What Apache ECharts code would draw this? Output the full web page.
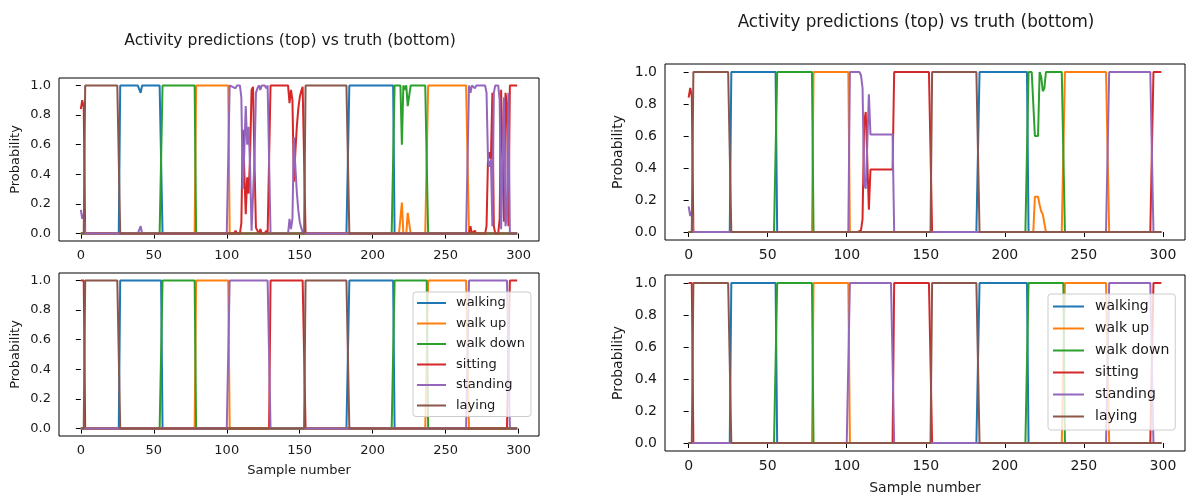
<!DOCTYPE html>
<html>
<head>
<meta charset="utf-8">
<title>Activity predictions vs truth</title>
<script src="https://cdn.jsdelivr.net/npm/echarts@6/dist/echarts.min.js"></script>
<style>
  html, body { margin: 0; padding: 0; background: #fff; }
  #chart { width: 1187px; height: 496px; }
</style>
</head>
<body>
<div id="chart"></div>
<script>
// activity classes, legend order
var activities = ['walking', 'walk up', 'walk down', 'sitting', 'standing', 'laying'];
var colors = ['#1f77b4', '#ff7f0e', '#2ca02c', '#d62728', '#9467bd', '#8c564b'];

var sampleCount = 300;
var xTicks = [0, 50, 100, 150, 200, 250, 300];
var yTicks = [0, 0.2, 0.4, 0.6, 0.8, 1.0];

// true activity: [activity index, first sample, last sample]
var truthSegments = [
  [3, 0, 2], [5, 3, 26], [0, 27, 55], [2, 56, 78], [1, 79, 101], [4, 102, 129],
  [3, 130, 153], [5, 154, 183], [0, 184, 214], [2, 215, 237], [1, 238, 265],
  [4, 266, 293], [3, 294, 299]
];

// predicted probabilities where they differ from the truth
// [sample, value] or [first sample, last sample, value]
var predLeft = {
  'walking': [[41, 0.95]],
  'walk up': [[220, 0.21], [224, 0.14], [225, 0.07]],
  'walk down': [[220, 0.6], [222, 0.97], [224, 0.86], [225, 0.93]],
  'sitting': [
    [0, 0.84], [1, 0.9], [2, 0.85],
    [104, 0.01], [106, 0.02], [108, 0.01], [110, 0.07], [111, 0.7], [112, 0.43],
    [113, 0.13], [114, 0.38], [115, 0.27], [116, 0.53], [117, 0.97], [118, 0.99],
    [119, 0.48], [120, 0.04], [121, 0.02], [123, 0.03], [125, 0.01], [127, 0.02],
    [143, 0.88], [144, 0.97], [145, 0.9], [146, 0.35], [147, 0.55], [148, 0.72],
    [149, 0.84], [150, 0.92], [151, 0.96], [152, 0.99],
    [267, 0.05], [270, 0.02], [278, 0.05], [279, 0.5], [280, 0.55], [281, 0.5],
    [282, 0.95], [283, 0.05], [287, 0.1], [288, 0.97], [289, 0.98], [290, 0.08],
    [291, 0.95], [292, 0.88], [293, 0.05]
  ],
  'standing': [
    [0, 0.16], [1, 0.1], [2, 0.13], [41, 0.05],
    [104, 0.99], [106, 0.98], [108, 0.99], [110, 0.92], [111, 0.3], [112, 0.55],
    [113, 0.86], [114, 0.6], [115, 0.72], [116, 0.45], [117, 0.02], [118, 0.01],
    [119, 0.5], [120, 0.95], [121, 0.98], [123, 0.97], [125, 0.99], [127, 0.98],
    [143, 0.1], [144, 0.03], [145, 0.1], [146, 0.65], [147, 0.45], [148, 0.28],
    [149, 0.16], [150, 0.08], [151, 0.04], [152, 0.01],
    [267, 0.95], [270, 0.98], [278, 0.95], [279, 0.5], [280, 0.45], [281, 0.5],
    [282, 0.05], [283, 0.95], [287, 0.9], [288, 0.03], [289, 0.02], [290, 0.92],
    [291, 0.05], [292, 0.12], [293, 0.95]
  ]
};

var predRight = {
  'walk up': [[219, 221, 0.22], [222, 0.17], [223, 0.13], [224, 225, 0.11]],
  'walk down': [[219, 221, 0.6], [222, 1], [223, 0.97], [224, 0.88], [225, 0.9]],
  'sitting': [
    [0, 0.84], [1, 0.9], [2, 0.85],
    [109, 0.01], [110, 0.08], [111, 0.68], [112, 0.75], [113, 0.45], [114, 0.14],
    [115, 129, 0.39]
  ],
  'standing': [
    [0, 0.16], [1, 0.1], [2, 0.13],
    [109, 0.98], [110, 0.9], [111, 0.3], [112, 0.27], [113, 0.55], [114, 0.86],
    [115, 129, 0.61]
  ]
};

function buildRows(overrides) {
  var rows = activities.map(function () {
    var r = [];
    for (var i = 0; i < sampleCount; i++) r.push(0);
    return r;
  });
  truthSegments.forEach(function (s) {
    for (var i = s[1]; i <= s[2]; i++) rows[s[0]][i] = 1;
  });
  if (overrides) {
    activities.forEach(function (name, k) {
      (overrides[name] || []).forEach(function (o) {
        var a = o[0], b = o.length === 3 ? o[1] : o[0], v = o[o.length - 1];
        for (var i = a; i <= b; i++) rows[k][i] = v;
      });
    });
  }
  return rows.map(function (r) {
    return r.map(function (v, i) { return [i, v]; });
  });
}

var panels = [
  { grid: { left: 59, top: 78, width: 480, height: 163 }, rows: buildRows(predLeft), font: 13, xName: '' },
  { grid: { left: 59, top: 273, width: 480, height: 163 }, rows: buildRows(null), font: 13, xName: 'Sample number' },
  { grid: { left: 665, top: 64, width: 520, height: 176 }, rows: buildRows(predRight), font: 14, xName: '' },
  { grid: { left: 665, top: 275, width: 520, height: 176 }, rows: buildRows(null), font: 14, xName: 'Sample number' }
];

var fontFamily = 'DejaVu Sans';
var textColor = '#1a1a1a';

var grid = [], xAxis = [], yAxis = [], series = [];
panels.forEach(function (p, g) {
  grid.push({
    left: p.grid.left, top: p.grid.top, width: p.grid.width, height: p.grid.height,
    show: true, borderColor: '#000', borderWidth: 1, backgroundColor: 'transparent'
  });
  xAxis.push({
    type: 'value', gridIndex: g, min: -14.95, max: 313.95,
    axisLine: { show: false },
    axisTick: { show: true, length: 5, customValues: xTicks, lineStyle: { color: '#000', width: 1 } },
    axisLabel: { customValues: xTicks, margin: 8, fontSize: p.font, color: textColor, fontFamily: fontFamily },
    splitLine: { show: false },
    name: p.xName, nameLocation: 'middle', nameGap: g === 1 ? 28 : 30,
    nameTextStyle: { fontSize: p.font, color: textColor, fontFamily: fontFamily }
  });
  yAxis.push({
    type: 'value', gridIndex: g, min: -0.05, max: 1.05,
    axisLine: { show: false },
    axisTick: { show: true, length: 5, customValues: yTicks, lineStyle: { color: '#000', width: 1 } },
    axisLabel: {
      customValues: yTicks, margin: 8, fontSize: p.font, color: textColor, fontFamily: fontFamily,
      formatter: function (v) { return v.toFixed(1); }
    },
    splitLine: { show: false },
    name: 'Probability', nameLocation: 'middle', nameRotate: 90, nameGap: g < 2 ? 37 : 40,
    nameTextStyle: { fontSize: p.font, color: textColor, fontFamily: fontFamily }
  });
  p.rows.forEach(function (data, k) {
    series.push({
      name: activities[k], type: 'line', xAxisIndex: g, yAxisIndex: g,
      data: data, showSymbol: false, symbol: 'none',
      lineStyle: { color: colors[k], width: 2 },
      itemStyle: { color: colors[k] },
      emphasis: { disabled: true }
    });
  });
});

var chart = echarts.init(document.getElementById('chart'));
chart.setOption({
  animation: false,
  backgroundColor: '#fff',
  title: [
    {
      text: 'Activity predictions (top) vs truth (bottom)', left: 290, top: 33, textAlign: 'center', padding: 0,
      textStyle: { fontSize: 15.6, fontWeight: 'normal', color: textColor, fontFamily: fontFamily }
    },
    {
      text: 'Activity predictions (top) vs truth (bottom)', left: 916, top: 14, textAlign: 'center', padding: 0,
      textStyle: { fontSize: 16.8, fontWeight: 'normal', color: textColor, fontFamily: fontFamily }
    }
  ],
  legend: [
    {
      data: activities, orient: 'vertical', left: 413, top: 292,
      padding: [4, 6, 4, 4], itemGap: 6.5, itemWidth: 29, itemHeight: 2, icon: 'rect',
      backgroundColor: 'rgba(255,255,255,0.8)', borderColor: '#cccccc', borderWidth: 1, borderRadius: 3,
      textStyle: { fontSize: 13, lineHeight: 14, color: textColor, fontFamily: fontFamily, padding: [0, 0, 0, 5] }
    },
    {
      data: activities, orient: 'vertical', left: 1048, top: 294,
      padding: [5, 6, 6, 5], itemGap: 7, itemWidth: 31, itemHeight: 2, icon: 'rect',
      backgroundColor: 'rgba(255,255,255,0.8)', borderColor: '#cccccc', borderWidth: 1, borderRadius: 3,
      textStyle: { fontSize: 14, lineHeight: 15, color: textColor, fontFamily: fontFamily, padding: [0, 0, 0, 6] }
    }
  ],
  grid: grid,
  xAxis: xAxis,
  yAxis: yAxis,
  series: series
});
</script>
</body>
</html>
